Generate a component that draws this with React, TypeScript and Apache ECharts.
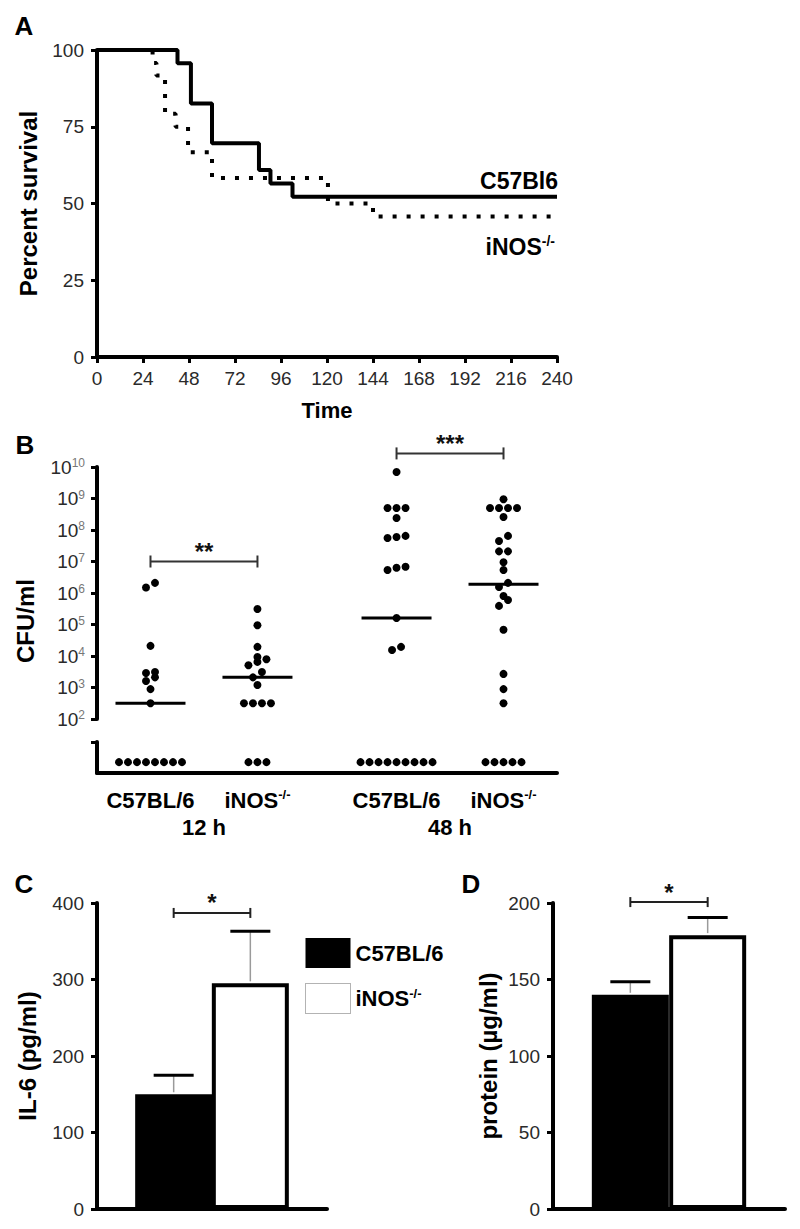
import React, { useEffect, useRef } from "react";
import * as echarts from "echarts";

const FONT = "'Liberation Sans', Arial, Helvetica, sans-serif";

// ---------- Panel A: survival (time in h, percent survival) ----------
const survTimeC57 = [0, 42, 49, 60, 84.5, 90.5, 102, 240];
const survPctC57 = [100, 95.7, 82.6, 69.6, 60.9, 56.5, 52.2, 52.2];
const survTimeINOS = [0, 29, 31, 35.5, 41, 47.5, 60, 120.5, 144, 240];
const survPctINOS = [100, 95.8, 91.7, 79.2, 75, 66.7, 58.3, 50, 45.8, 45.8];
const survLabels = ["C57Bl6", "iNOS-/-"];

// ---------- Panel B: CFU/ml per mouse ----------
const groupNames = ["C57BL/6", "iNOS-/-", "C57BL/6", "iNOS-/-"];
const groupPos = [0.5, 1.5, 2.8, 3.8];
const timeNames = ["12 h", "48 h"];
const timePos = [1.0, 3.3];
const cfu12hC57 = [2.1e6, 1.5e6, 2.1e4, 3.1e3, 2.9e3, 2.1e3, 1.6e3, 890, 316];
const cfu12hINOS = [3.1e5, 9.5e4, 1.95e4, 9.3e3, 7.9e3, 6.5e3, 5.1e3, 3.1e3, 2.1e3, 1.2e3, 316, 316, 316, 316];
const cfu48hC57 = [6.9e9, 5e8, 5e8, 5e8, 2.4e8, 6.5e7, 6e7, 5.6e7, 6.8e6, 6.3e6, 5.4e6, 1.6e5, 1.95e4, 1.55e4];
const cfu48hINOS = [9.5e8, 5e8, 5e8, 5e8, 5e8, 2.6e8, 6.5e7, 4.5e7, 2.1e7, 2.1e7, 9.5e6, 5.4e6, 2.1e6, 1.55e6, 8e5, 6e5, 3.9e5, 6.8e4, 2.7e3, 890, 316];
const zeroCounts = [8, 3, 9, 5];
const cfuMedians = [316, 2.1e3, 1.6e5, 1.9e6];
const sigFrom = [0.5, 2.8];
const sigTo = [1.5, 3.8];
const sigLevel = [1e7, 2.7e10];
const sigText = ["**", "***"];

// ---------- Panels C & D ----------
const barNames = ["C57BL/6", "iNOS-/-"];
const barPos = [1, 2];
const il6Mean = [150, 295];
const il6Err = [25, 68];
const il6Sig = [[1, 2, 387]];
const protMean = [140, 179];
const protErr = [8.5, 11.5];
const protSig = [[1, 2, 200.6]];

// ---------- helpers ----------
const B_W = 460;
const B_XMAX = 4.3;
const B_H = 252;
const DECADES = 8;
const DOT_STEP = (9 * B_XMAX) / B_W;
const ROW_TOL = 6.5;
const ZERO_LEVEL = 0.35;

function swarm(values: number[], center: number) {
  const items = values
    .map((v) => ({ v, p: (Math.log10(v) * B_H) / DECADES }))
    .sort((a, b) => a.p - b.p);
  const rows: { v: number; p: number }[][] = [];
  for (const it of items) {
    const row = rows[rows.length - 1];
    if (row && it.p - row[0].p < ROW_TOL) row.push(it);
    else rows.push([it]);
  }
  const out: number[][] = [];
  rows.forEach((row) =>
    row.forEach((it, i) => out.push([center + (i - (row.length - 1) / 2) * DOT_STEP, it.v]))
  );
  return out;
}

const supName = (n: string) =>
  n.endsWith("-/-") ? `{b|${n.slice(0, -3)}}{s|-/-}` : `{b|${n}}`;
const supRich = (size: number, supSize: number, color = "#000", weight: any = "bold") => ({
  b: { fontSize: size, fontWeight: weight, color, fontFamily: FONT, lineHeight: size + 2 },
  s: { fontSize: supSize, fontWeight: weight, color, fontFamily: FONT, lineHeight: supSize, verticalAlign: "top" },
});

const axisLine = { show: true, onZero: false, lineStyle: { color: "#000", width: 4 } };
const axisTick = { show: true, length: 6, lineStyle: { color: "#000", width: 3 } };
const tickLabel = { color: "#2a2a2a", fontSize: 19, fontFamily: FONT, margin: 13 };
const noSplit = { show: false };

function bracketRender(texts: string[], color: string, cap: number, fontSize: number) {
  return (params: any, api: any) => {
    const a = api.coord([api.value(0), api.value(2)]);
    const b = api.coord([api.value(1), api.value(2)]);
    const t = texts[params.dataIndex];
    return {
      type: "group",
      children: [
        { type: "line", shape: { x1: a[0], y1: a[1], x2: b[0], y2: b[1] }, style: { stroke: color, lineWidth: 2 } },
        { type: "line", shape: { x1: a[0], y1: a[1] - cap, x2: a[0], y2: a[1] + cap }, style: { stroke: color, lineWidth: 2 } },
        { type: "line", shape: { x1: b[0], y1: b[1] - cap, x2: b[0], y2: b[1] + cap }, style: { stroke: color, lineWidth: 2 } },
        {
          type: "text",
          x: (a[0] + b[0]) / 2,
          y: a[1] + 2,
          style: {
            text: t,
            fill: "#111",
            fontSize,
            fontWeight: "bold",
            fontFamily: FONT,
            align: "center",
            verticalAlign: "bottom",
            textAlign: "center",
            textVerticalAlign: "bottom",
          },
        },
      ],
    };
  };
}

const errRender = (params: any, api: any) => {
  const x = api.value(0);
  const m = api.value(1);
  const e = api.value(2);
  const p0 = api.coord([x, m]);
  const p1 = api.coord([x, m + e]);
  return {
    type: "group",
    children: [
      { type: "line", shape: { x1: p0[0], y1: p0[1] - 2, x2: p1[0], y2: p1[1] }, style: { stroke: "#9a9a9a", lineWidth: 1.5 } },
      { type: "line", shape: { x1: p1[0] - 20, y1: p1[1], x2: p1[0] + 20, y2: p1[1] }, style: { stroke: "#000", lineWidth: 3 } },
    ],
  };
};

const medianRender = (params: any, api: any) => {
  const p = api.coord([api.value(0), api.value(1)]);
  return {
    type: "line",
    shape: { x1: p[0] - 35, y1: p[1], x2: p[0] + 35, y2: p[1] },
    style: { stroke: "#000", lineWidth: 3 },
  };
};

function buildOption() {
  const zip = (a: number[], b: number[]) => a.map((v, i) => [v, b[i]]);
  const groups = [cfu12hC57, cfu12hINOS, cfu48hC57, cfu48hINOS];
  const zeros: number[][] = [];
  zeroCounts.forEach((n, g) => {
    for (let i = 0; i < n; i++) zeros.push([groupPos[g] + (i - (n - 1) / 2) * DOT_STEP, ZERO_LEVEL]);
  });
  const lastC = survTimeC57.length - 1;
  const lastI = survTimeINOS.length - 1;
  const dotStyle = { color: "#000", opacity: 1 };

  const letter = (t: string, x: number, y: number) => ({
    type: "text",
    x,
    y,
    style: {
      text: t, fill: "#000", fontSize: 26, fontWeight: "bold", fontFamily: FONT,
      align: "center", verticalAlign: "middle", textAlign: "center", textVerticalAlign: "middle",
    },
  });

  return {
    animation: false,
    backgroundColor: "#fff",
    textStyle: { fontFamily: FONT },
    grid: [
      { left: 97, top: 50, width: 460, height: 307 },
      { left: 97, top: 467, width: B_W, height: B_H },
      { left: 97, top: 742, width: B_W, height: 31 },
      { left: 97, top: 903, width: 230, height: 306 },
      { left: 553, top: 903, width: 232, height: 306 },
    ],
    xAxis: [
      {
        type: "value", gridIndex: 0, min: 0, max: 240, interval: 24,
        axisLine, axisTick, axisLabel: { ...tickLabel, margin: 12 }, splitLine: noSplit,
        name: "Time", nameLocation: "middle", nameGap: 42,
        nameTextStyle: { fontSize: 22, fontWeight: "bold", color: "#000", fontFamily: FONT },
      },
      { type: "value", gridIndex: 1, min: 0, max: B_XMAX, show: false, splitLine: noSplit },
      {
        type: "value", gridIndex: 2, min: 0, max: B_XMAX, position: "bottom",
        axisLine, axisTick: { show: false }, splitLine: noSplit,
        axisLabel: {
          customValues: groupPos,
          formatter: (v: number) => supName(groupNames[groupPos.indexOf(v)] || ""),
          rich: supRich(22, 13),
          margin: 15,
        },
      },
      {
        type: "value", gridIndex: 2, min: 0, max: B_XMAX, position: "bottom",
        axisLine: { show: false }, axisTick: { show: false }, splitLine: noSplit,
        axisLabel: {
          customValues: timePos,
          formatter: (v: number) => `{b|${timeNames[timePos.indexOf(v)] || ""}}`,
          rich: supRich(22, 13),
          margin: 42,
        },
      },
      { type: "value", gridIndex: 3, min: 0, max: 3, axisLine, axisTick: { show: false }, axisLabel: { show: false }, splitLine: noSplit },
      { type: "value", gridIndex: 4, min: 0, max: 3, axisLine, axisTick: { show: false }, axisLabel: { show: false }, splitLine: noSplit },
    ],
    yAxis: [
      {
        type: "value", gridIndex: 0, min: 0, max: 100, interval: 25,
        axisLine, axisTick, axisLabel: tickLabel, splitLine: noSplit,
        name: "Percent survival", nameLocation: "middle", nameGap: 57,
        nameTextStyle: { fontSize: 24, fontWeight: "bold", color: "#000", fontFamily: FONT },
      },
      {
        type: "log", logBase: 10, gridIndex: 1, min: 100, max: 1e10, splitNumber: 8,
        axisLine, axisTick, splitLine: noSplit,
        axisLabel: {
          margin: 12,
          formatter: (v: number) => `{b|10}{s|${Math.round(Math.log10(v))}}`,
          rich: {
            b: { fontSize: 19, color: "#2a2a2a", fontFamily: FONT, lineHeight: 20 },
            s: { fontSize: 12, color: "#777", fontFamily: FONT, lineHeight: 12, verticalAlign: "top" },
          },
        },
      },
      {
        type: "value", gridIndex: 2, min: 0, max: 1,
        axisLine, axisTick: { show: true, length: 6, customValues: [1], lineStyle: { color: "#000", width: 3 } },
        axisLabel: { show: false }, splitLine: noSplit,
      },
      {
        type: "value", gridIndex: 3, min: 0, max: 400, interval: 100,
        axisLine, axisTick, axisLabel: tickLabel, splitLine: noSplit,
        name: "IL-6 (pg/ml)", nameLocation: "middle", nameGap: 58,
        nameTextStyle: { fontSize: 24, fontWeight: "bold", color: "#000", fontFamily: FONT },
      },
      {
        type: "value", gridIndex: 4, min: 0, max: 200, interval: 50,
        axisLine, axisTick, axisLabel: tickLabel, splitLine: noSplit,
        name: "protein (\u00b5g/ml)", nameLocation: "middle", nameGap: 53,
        nameTextStyle: { fontSize: 24, fontWeight: "bold", color: "#000", fontFamily: FONT },
      },
    ],
    legend: {
      orient: "vertical", left: 305, top: 938, itemWidth: 45, itemHeight: 30, itemGap: 15,
      padding: 0, selectedMode: false, icon: "rect",
      data: [
        { name: barNames[0], itemStyle: { color: "#000", borderWidth: 0 } },
        { name: barNames[1], itemStyle: { color: "#fff", borderColor: "#666", borderWidth: 1, borderType: "dotted" } },
      ],
      formatter: supName,
      textStyle: { color: "#000", rich: supRich(22, 13) },
    },
    graphic: [
      letter("A", 24, 26),
      letter("B", 25, 445),
      letter("C", 24, 884),
      letter("D", 471, 884),
      {
        type: "text", x: 25, y: 621, rotation: Math.PI / 2,
        style: {
          text: "CFU/ml", fill: "#000", fontSize: 24, fontWeight: "bold", fontFamily: FONT,
          align: "center", verticalAlign: "middle", textAlign: "center", textVerticalAlign: "middle",
        },
      },
    ],
    series: [
      {
        type: "line", name: "A iNOS", xAxisIndex: 0, yAxisIndex: 0, step: "end", symbol: "none",
        data: zip(survTimeINOS, survPctINOS), z: 2,
        lineStyle: { color: "#000", width: 4, type: [4, 10], cap: "butt" },
      },
      {
        type: "line", name: "A C57", xAxisIndex: 0, yAxisIndex: 0, step: "end", symbol: "none",
        data: zip(survTimeC57, survPctC57), z: 3,
        lineStyle: { color: "#000", width: 4 },
      },
      {
        type: "scatter", name: "A labels", xAxisIndex: 0, yAxisIndex: 0, symbolSize: 1,
        itemStyle: { color: "#fff", opacity: 0 }, z: 4,
        data: [
          {
            value: [survTimeC57[lastC], survPctC57[lastC]],
            label: {
              show: true, position: "inside", align: "right", verticalAlign: "bottom", offset: [1, -3],
              color: "#000", opacity: 1,
              formatter: supName(survLabels[0]), rich: supRich(23, 14),
            },
          },
          {
            value: [survTimeINOS[lastI], survPctINOS[lastI]],
            label: {
              show: true, position: "inside", align: "right", verticalAlign: "top", offset: [-2, 18],
              color: "#000", opacity: 1,
              formatter: supName(survLabels[1]), rich: supRich(23, 14),
            },
          },
        ],
      },
      ...groups.map((vals, g) => ({
        type: "scatter", name: `B group ${g}`, xAxisIndex: 1, yAxisIndex: 1, symbolSize: 8,
        itemStyle: dotStyle, data: swarm(vals, groupPos[g]), z: 3,
      })),
      {
        type: "scatter", name: "B zeros", xAxisIndex: 2, yAxisIndex: 2, symbolSize: 8,
        itemStyle: dotStyle, data: zeros,
      },
      {
        type: "custom", name: "B medians", xAxisIndex: 1, yAxisIndex: 1, clip: false, z: 4,
        data: groupPos.map((p, i) => [p, cfuMedians[i]]), renderItem: medianRender,
      },
      {
        type: "custom", name: "B sig", xAxisIndex: 1, yAxisIndex: 1, clip: false,
        data: sigFrom.map((f, i) => [f, sigTo[i], sigLevel[i]]),
        renderItem: bracketRender(sigText, "#333", 6, 24),
      },
      ...[0, 1].map((i) => ({
        type: "bar", name: barNames[i], xAxisIndex: 4, yAxisIndex: 3, barWidth: 77, barGap: "-100%",
        data: [[barPos[i], il6Mean[i]]],
        itemStyle: { color: i === 0 ? "#000" : "#fff", borderColor: "#000", borderWidth: 4 },
      })),
      ...[0, 1].map((i) => ({
        type: "bar", name: barNames[i], xAxisIndex: 5, yAxisIndex: 4, barWidth: 77, barGap: "-100%",
        data: [[barPos[i], protMean[i]]],
        itemStyle: { color: i === 0 ? "#000" : "#fff", borderColor: "#000", borderWidth: 4 },
      })),
      {
        type: "custom", name: "C err", xAxisIndex: 4, yAxisIndex: 3, clip: false, z: 5,
        data: barPos.map((p, i) => [p, il6Mean[i], il6Err[i]]), renderItem: errRender,
      },
      {
        type: "custom", name: "D err", xAxisIndex: 5, yAxisIndex: 4, clip: false, z: 5,
        data: barPos.map((p, i) => [p, protMean[i], protErr[i]]), renderItem: errRender,
      },
      {
        type: "custom", name: "C sig", xAxisIndex: 4, yAxisIndex: 3, clip: false,
        data: il6Sig, renderItem: bracketRender(["*"], "#222", 5, 24),
      },
      {
        type: "custom", name: "D sig", xAxisIndex: 5, yAxisIndex: 4, clip: false,
        data: protSig, renderItem: bracketRender(["*"], "#222", 5, 24),
      },
    ],
  };
}

export default function App() {
  const ref = useRef<HTMLDivElement>(null);
  useEffect(() => {
    if (!ref.current) return;
    const chart = echarts.init(ref.current, undefined, { renderer: "svg" });
    chart.setOption(buildOption() as any);
    return () => chart.dispose();
  }, []);
  return (
    <div
      ref={ref}
      style={{ position: "absolute", left: 0, top: 0, width: 800, height: 1229, background: "#fff" }}
    />
  );
}
